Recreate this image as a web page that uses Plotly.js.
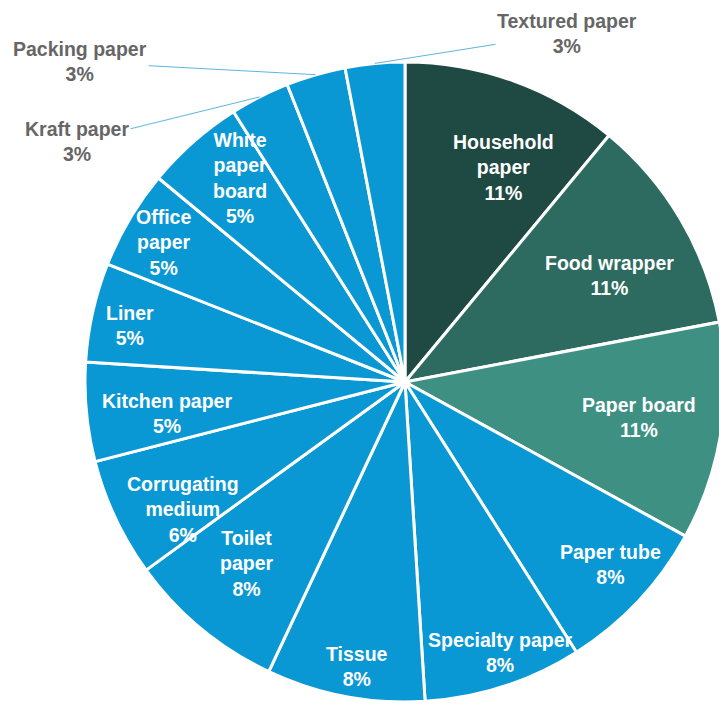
<!DOCTYPE html>
<html>
<head>
<meta charset="utf-8">
<script src="https://cdn.plot.ly/plotly-3.0.1.min.js"></script>
<style>
html,body{margin:0;padding:0;overflow:hidden;background:#fff;}
#chart{width:740px;height:704px;}
</style>
</head>
<body>
<div id="chart"></div>
<script>
// ---- data ----
const categories = ['Household paper','Food wrapper','Paper board','Paper tube','Specialty paper','Tissue','Toilet paper','Corrugating medium','Kitchen paper','Liner','Office paper','White paper board','Kraft paper','Packing paper','Textured paper'];
const shares = [11,11,11,8,8,8,8,6,5,5,5,5,3,3,3];
const labelText = ['Household<br>paper','Food wrapper','Paper board','Paper tube','Specialty paper','Tissue','Toilet<br>paper','Corrugating<br>medium','Kitchen paper','Liner','Office<br>paper','White<br>paper<br>board','Kraft paper','Packing paper','Textured paper'];

// ---- styling / layout ----
const sliceColors = ['#1F4A43','#2D6B60','#3E9083','#0A98D5','#0A98D5','#0A98D5','#0A98D5','#0A98D5','#0A98D5','#0A98D5','#0A98D5','#0A98D5','#0A98D5','#0A98D5','#0A98D5'];
const labelRadius = [0.737,0.72,0.74,0.86,0.897,0.903,0.753,0.80,0.75,0.877,0.87,0.82,null,null,null];
const labelAngleShift = [5,3.1,-0.4,-1.6,-1.5,-1.2,1.4,-4.7,-2.1,-1,-0.6,2.3,0,0,0];
const outsideLabelPos = {12:[77,142], 13:[80,62], 14:[567,33]};

const W = 740, H = 704;
const cx = 405, cy = 382, R = 320;
const FS = 19.5;

const total = shares.reduce((a,b)=>a+b,0);
const annotations = [];
let cum = 0;
shares.forEach((v,i)=>{
  const midDeg = (cum + v/2)/total*360;
  cum += v;
  const txt = labelText[i] + '<br>' + v + '%';
  if (outsideLabelPos[i]) {
    const mid = midDeg*Math.PI/180;
    const px = cx + R*Math.sin(mid), py = cy - R*Math.cos(mid);
    const [lx,ly] = outsideLabelPos[i];
    annotations.push({
      x: px/W, y: (H-py)/H, xref:'paper', yref:'paper',
      ax: lx-px, ay: ly-py, axref:'pixel', ayref:'pixel',
      showarrow:true, arrowhead:0, arrowwidth:1, arrowcolor:'#5DB6DE',
      text: txt, font:{family:'Liberation Sans, Arial, sans-serif', size:FS, color:'#666666', weight:'bold'},
      align:'center'
    });
  } else {
    const a = (midDeg + labelAngleShift[i])*Math.PI/180;
    const k = labelRadius[i];
    const px = cx + k*R*Math.sin(a), py = cy - k*R*Math.cos(a);
    annotations.push({
      x: px/W, y: (H-py)/H, xref:'paper', yref:'paper', showarrow:false,
      text: txt, font:{family:'Liberation Sans, Arial, sans-serif', size:FS, color:'#FFFFFF', weight:'bold'},
      align:'center', xanchor:'center', yanchor:'middle'
    });
  }
});

const trace = {
  type:'pie',
  labels: categories,
  values: shares,
  sort:false,
  direction:'clockwise',
  rotation:0,
  textinfo:'none',
  marker:{colors:sliceColors, line:{color:'#FFFFFF', width:3}},
  domain:{x:[(cx-R)/W,(cx+R)/W], y:[(H-cy-R)/H,(H-cy+R)/H]},
  showlegend:false,
  hoverinfo:'label+percent'
};

Plotly.newPlot('chart',[trace],{
  width:W, height:H,
  margin:{l:0,r:0,t:0,b:0},
  paper_bgcolor:'#FFFFFF',
  showlegend:false,
  annotations: annotations
},{displayModeBar:false, staticPlot:true});
</script>
</body>
</html>
